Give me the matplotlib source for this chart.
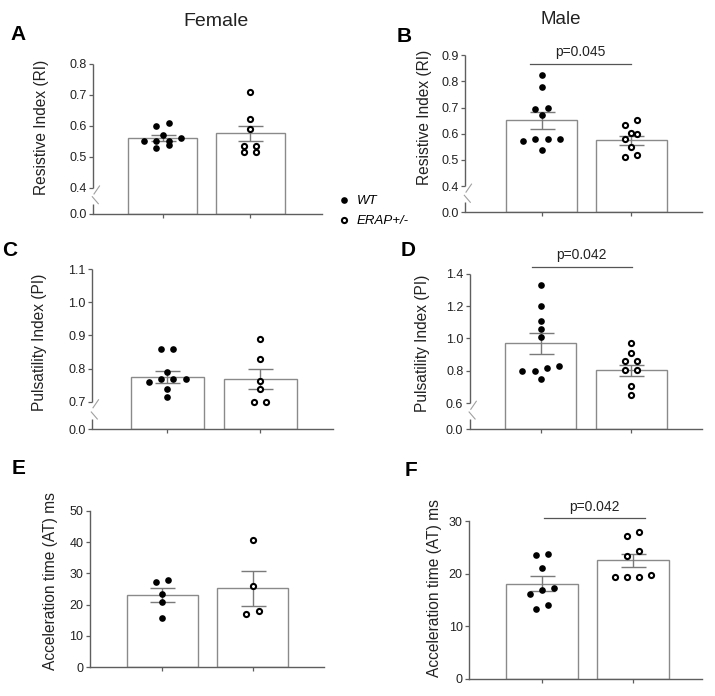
import numpy as np
import matplotlib
matplotlib.use("Agg")
import matplotlib.pyplot as plt
from matplotlib.lines import Line2D
from matplotlib.ticker import NullLocator

plt.rcParams['font.family'] = ['Liberation Sans', 'DejaVu Sans']

W, H = 715, 696

# ---------------- data ----------------
groups = ['WT', 'ERAP+/-']
sexes = ['Female', 'Male']

# A: female resistive index
ri_female_wt = [0.61, 0.60, 0.572, 0.55, 0.55, 0.55, 0.56, 0.54, 0.53]
ri_female_erap = [0.711, 0.622, 0.589, 0.535, 0.535, 0.515, 0.515]
ri_female_mean = [0.561, 0.576]
ri_female_sem = [0.011, 0.025]
# B: male resistive index
ri_male_wt = [0.823, 0.780, 0.693, 0.699, 0.670, 0.581, 0.581, 0.581, 0.572, 0.540]
ri_male_erap = [0.652, 0.632, 0.604, 0.600, 0.580, 0.550, 0.520, 0.510]
ri_male_mean = [0.651, 0.575]
ri_male_sem = [0.031, 0.017]
# C: female pulsatility index
pi_female_wt = [0.86, 0.86, 0.789, 0.77, 0.77, 0.77, 0.76, 0.74, 0.715]
pi_female_erap = [0.889, 0.829, 0.762, 0.740, 0.698, 0.698]
pi_female_mean = [0.775, 0.768]
pi_female_sem = [0.018, 0.030]
# D: male pulsatility index
pi_male_wt = [1.331, 1.201, 1.111, 1.061, 1.010, 0.833, 0.816, 0.802, 0.802, 0.751]
pi_male_erap = [0.975, 0.913, 0.86, 0.86, 0.806, 0.806, 0.709, 0.652]
pi_male_mean = [0.969, 0.804]
pi_male_sem = [0.063, 0.034]
# E: female acceleration time
at_female_wt = [27.9, 27.2, 23.4, 21.0, 15.9]
at_female_erap = [40.6, 25.8, 18.0, 16.9]
at_female_mean = [23.0, 25.2]
at_female_sem = [2.3, 5.5]
# F: male acceleration time
at_male_wt = [23.8, 23.5, 21.1, 17.2, 16.9, 16.1, 14.1, 13.3]
at_male_erap = [28.0, 27.1, 24.2, 23.3, 19.7, 19.3, 19.3, 19.3]
at_male_mean = [18.1, 22.5]
at_male_sem = [1.45, 1.25]

ri_female_ticks = [0.0, 0.4, 0.5, 0.6, 0.7, 0.8]
ri_male_ticks = [0.0, 0.4, 0.5, 0.6, 0.7, 0.8, 0.9]
pi_female_ticks = [0.0, 0.7, 0.8, 0.9, 1.0, 1.1]
pi_male_ticks = [0.0, 0.6, 0.8, 1.0, 1.2, 1.4]
at_female_ticks = [0, 10, 20, 30, 40, 50]
at_male_ticks = [0, 10, 20, 30]

p_labels = ['p=0.045', 'p=0.042', 'p=0.042']

# ---------------- layout (pixels) ----------------
panels = [
    dict(letter='A', wt=ri_female_wt, erap=ri_female_erap, mean=ri_female_mean, sem=ri_female_sem,
         ticks=ri_female_ticks, fmt='{:.1f}', ylabel='Resistive Index (RI)', brk=(0.4, 0.083), p=None,
         L=dict(spine=93, end=322, c0=162.5, c1=250, barw=69, y0=213.7, ytop=64,
                ylab=(41.5, 127), let=(18, 35))),
    dict(letter='B', wt=ri_male_wt, erap=ri_male_erap, mean=ri_male_mean, sem=ri_male_sem,
         ticks=ri_male_ticks, fmt='{:.1f}', ylabel='Resistive Index (RI)', brk=(0.4, 0.1),
         p=dict(text=p_labels[0], x0=530, x1=631, y=64, ty=51.7),
         L=dict(spine=465, end=702, c0=541.5, c1=631, barw=71, y0=212.3, ytop=55.3,
                ylab=(425, 117.5), let=(404, 36))),
    dict(letter='C', wt=pi_female_wt, erap=pi_female_erap, mean=pi_female_mean, sem=pi_female_sem,
         ticks=pi_female_ticks, fmt='{:.1f}', ylabel='Pulsatility Index (PI)', brk=(0.7, 0.082), p=None,
         L=dict(spine=92, end=332.6, c0=167.3, c1=260, barw=73, y0=429, ytop=269,
                ylab=(40, 342), let=(10, 251))),
    dict(letter='D', wt=pi_male_wt, erap=pi_male_erap, mean=pi_male_mean, sem=pi_male_sem,
         ticks=pi_male_ticks, fmt='{:.1f}', ylabel='Pulsatility Index (PI)', brk=(0.6, 0.159),
         p=dict(text=p_labels[1], x0=531.7, x1=631.7, y=266.7, ty=255),
         L=dict(spine=469.8, end=702, c0=540.8, c1=631, barw=71, y0=429, ytop=273.7,
                ylab=(423, 343), let=(408, 251))),
    dict(letter='E', wt=at_female_wt, erap=at_female_erap, mean=at_female_mean, sem=at_female_sem,
         ticks=at_female_ticks, fmt='{:d}', ylabel='Acceleration time (AT) ms', brk=None, p=None,
         L=dict(spine=90, end=324, c0=162.3, c1=252.5, barw=71.5, y0=667.3, ytop=510.7,
                ylab=(50, 581), let=(19, 468))),
    dict(letter='F', wt=at_male_wt, erap=at_male_erap, mean=at_male_mean, sem=at_male_sem,
         ticks=at_male_ticks, fmt='{:d}', ylabel='Acceleration time (AT) ms', brk=None,
         p=dict(text=p_labels[2], x0=544, x1=645, y=518.3, ty=506.7),
         L=dict(spine=469.3, end=702, c0=542, c1=633, barw=72.5, y0=678.7, ytop=521,
                ylab=(434, 588), let=(411, 471))),
]

AXC = '#5e5e5e'
BARC = '#8a8a8a'
TXT = '#222222'
STEP_PX = 12.3
ROW_THRESH = 6.0

fig = plt.figure(figsize=(W / 100, H / 100), dpi=100)
fig.patch.set_facecolor('white')


def fx(x):
    return x / W


def fy(y):
    return 1 - y / H


def fig_line(xs, ys, **kw):
    fig.add_artist(Line2D([fx(x) for x in xs], [fy(y) for y in ys],
                          transform=fig.transFigure, **kw))


def make_break_scale(lo, d):
    def fwd(y):
        y = np.asarray(y, float)
        return np.where(y >= lo, y, lo - d + y * d / lo)

    def inv(z):
        z = np.asarray(z, float)
        return np.where(z >= lo, z, (z - (lo - d)) * lo / d)
    return fwd, inv


def swarm_x(ax, values, center, px_per_x):
    vals = np.asarray(values, float)
    order = np.argsort(vals, kind='stable')
    ypx = ax.transData.transform(np.column_stack([np.full(len(vals), float(center)), vals]))[:, 1]
    xs = np.full(len(vals), float(center))
    rows, cur = [], [order[0]]
    for i in order[1:]:
        if ypx[i] - ypx[cur[0]] < ROW_THRESH:
            cur.append(i)
        else:
            rows.append(cur)
            cur = [i]
    rows.append(cur)
    for row in rows:
        n = len(row)
        for k, i in enumerate(row):
            xs[i] = center + (k - (n - 1) / 2) * STEP_PX / px_per_x
    return xs


for P in panels:
    L = P['L']
    sp = L['c1'] - L['c0']
    ax = fig.add_axes([fx(L['spine']), fy(L['y0']), (L['end'] - L['spine']) / W,
                       (L['y0'] - L['ytop']) / H])
    ax.set_facecolor('none')
    ax.set_xlim((L['spine'] - L['c0']) / sp, (L['end'] - L['c0']) / sp)
    ticks = P['ticks']
    if P['brk']:
        lo, d = P['brk']
        ax.set_yscale('function', functions=make_break_scale(lo, d))
    ax.set_ylim(ticks[0], ticks[-1])
    ax.set_yticks(ticks)
    ax.set_yticklabels([P['fmt'].format(t) for t in ticks])
    ax.yaxis.set_minor_locator(NullLocator())
    ax.set_xticks([0, 1])
    ax.set_xticklabels(['', ''])
    for s in ('top', 'right'):
        ax.spines[s].set_visible(False)
    ax.spines['bottom'].set_color(AXC)
    ax.spines['bottom'].set_linewidth(1.0)
    ax.spines['left'].set_color(AXC)
    ax.spines['left'].set_linewidth(1.0)
    ax.tick_params(axis='both', direction='out', length=3.2, width=0.9, color=AXC,
                   labelsize=9, labelcolor=TXT, pad=1.5)

    # bars, error bars, points
    ax.bar([0, 1], P['mean'], width=L['barw'] / sp, color='white', edgecolor=BARC,
           linewidth=1.0, zorder=2)
    ax.errorbar([0, 1], P['mean'], yerr=P['sem'], fmt='none', ecolor='#7a7a7a',
                elinewidth=1.0, capsize=9, capthick=1.0, zorder=3)
    xw = swarm_x(ax, P['wt'], 0, sp)
    xe = swarm_x(ax, P['erap'], 1, sp)
    ax.plot(xw, P['wt'], ls='none', marker='o', ms=4.8, color='black', mew=0,
            zorder=4, clip_on=False)
    ax.plot(xe, P['erap'], ls='none', marker='o', ms=3.7, mfc='white', mec='black',
            mew=1.5, zorder=4, clip_on=False)

    # broken y axis
    if P['brk']:
        ax.spines['left'].set_visible(False)
        lo = P['brk'][0]
        yl = H - ax.transData.transform((0, lo))[1]
        s = L['spine']
        kw = dict(color=AXC, lw=1.0, solid_capstyle='butt')
        fig_line([s, s], [L['ytop'], yl], **kw)
        fig_line([s, s], [L['y0'] - 10, L['y0']], **kw)
        mk = dict(color='#a0a0a0', lw=0.8)
        fig_line([s + 1, s + 6.5], [yl + 6, yl - 2], **mk)
        fig_line([s - 0.7, s + 5.3], [L['y0'] - 17, L['y0'] - 10], **mk)

    # p-value bracket
    if P['p']:
        p = P['p']
        fig_line([p['x0'], p['x1']], [p['y'], p['y']], color='#555555', lw=0.9)
        fig.text(fx((p['x0'] + p['x1']) / 2), fy(p['ty']), p['text'], ha='center',
                 va='center', fontsize=10, color=TXT)

    fig.text(fx(L['ylab'][0]), fy(L['ylab'][1]), P['ylabel'], rotation=90, ha='center',
             va='center', fontsize=11.2, color=TXT)
    fig.text(fx(L['let'][0]), fy(L['let'][1]), P['letter'], ha='center', va='center',
             fontsize=15, fontweight='heavy', color='black')

# column titles
fig.text(fx(216), fy(22), sexes[0], ha='center', va='center', fontsize=14, color=TXT)
fig.text(fx(561), fy(19), sexes[1], ha='center', va='center', fontsize=13.5, color=TXT)

# legend
handles = [Line2D([], [], ls='none', marker='o', ms=4.8, color='black', mew=0),
           Line2D([], [], ls='none', marker='o', ms=3.7, mfc='white', mec='black', mew=1.5)]
fig.legend(handles, groups, loc='upper left', bbox_to_anchor=(fx(337), fy(195)),
           frameon=False, prop=dict(style='italic', size=9.5), handlelength=1.0,
           handletextpad=0.5, labelspacing=0.6, borderaxespad=0, borderpad=0)

fig.savefig('out.png', dpi=100, facecolor='white')
